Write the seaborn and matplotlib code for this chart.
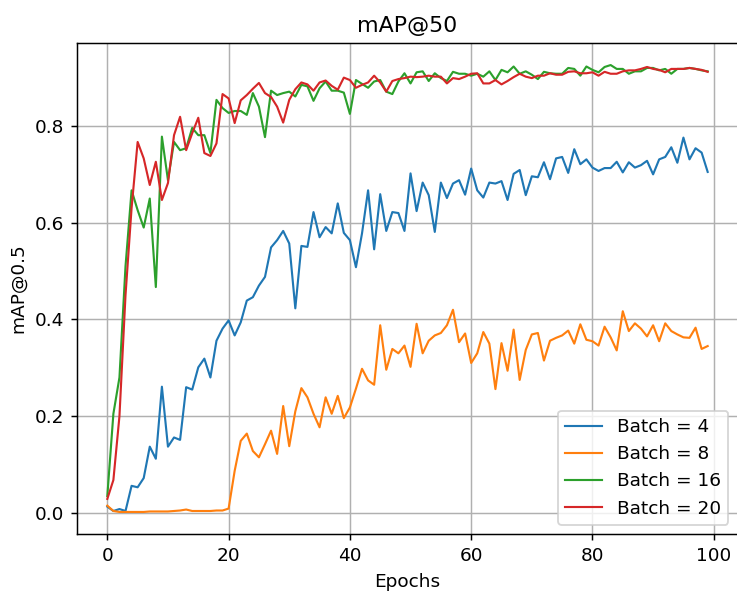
import numpy as np
import pandas as pd
import seaborn as sns
import matplotlib
matplotlib.use('Agg')
import matplotlib.pyplot as plt

epochs = list(range(100))

batch4 = [0.013, 0.004, 0.008, 0.004, 0.056, 0.053, 0.072, 0.137, 0.112, 0.261,
          0.137, 0.156, 0.151, 0.26, 0.255, 0.301, 0.319, 0.28, 0.356, 0.381,
          0.398, 0.367, 0.394, 0.439, 0.446, 0.47, 0.488, 0.549, 0.564, 0.583,
          0.557, 0.423, 0.552, 0.55, 0.622, 0.57, 0.591, 0.578, 0.64, 0.579,
          0.564, 0.508, 0.578, 0.667, 0.545, 0.659, 0.583, 0.622, 0.62, 0.583,
          0.702, 0.624, 0.683, 0.657, 0.581, 0.683, 0.651, 0.681, 0.688, 0.658,
          0.712, 0.667, 0.652, 0.683, 0.681, 0.686, 0.647, 0.701, 0.709, 0.657,
          0.696, 0.694, 0.725, 0.69, 0.733, 0.736, 0.703, 0.752, 0.721, 0.731,
          0.714, 0.707, 0.713, 0.713, 0.726, 0.704, 0.725, 0.714, 0.719, 0.728,
          0.70, 0.731, 0.736, 0.756, 0.724, 0.776, 0.731, 0.754, 0.745, 0.705]

batch8 = [0.015, 0.004, 0.002, 0.002, 0.002, 0.002, 0.002, 0.003, 0.003, 0.003,
          0.003, 0.004, 0.005, 0.007, 0.004, 0.004, 0.004, 0.004, 0.005, 0.005,
          0.009, 0.087, 0.149, 0.164, 0.128, 0.115, 0.142, 0.17, 0.122, 0.221,
          0.138, 0.21, 0.258, 0.239, 0.205, 0.177, 0.239, 0.205, 0.242, 0.196,
          0.218, 0.257, 0.298, 0.274, 0.265, 0.388, 0.296, 0.339, 0.33, 0.346,
          0.302, 0.391, 0.33, 0.356, 0.367, 0.372, 0.388, 0.42, 0.353, 0.371,
          0.31, 0.33, 0.374, 0.35, 0.256, 0.351, 0.294, 0.379, 0.275, 0.337,
          0.369, 0.372, 0.315, 0.356, 0.362, 0.367, 0.377, 0.35, 0.39, 0.358,
          0.355, 0.346, 0.385, 0.363, 0.336, 0.417, 0.376, 0.392, 0.381, 0.365,
          0.388, 0.355, 0.392, 0.376, 0.369, 0.363, 0.362, 0.383, 0.339, 0.345]

batch16 = [0.035, 0.205, 0.28, 0.51, 0.667, 0.626, 0.59, 0.65, 0.467, 0.778,
           0.688, 0.767, 0.75, 0.754, 0.796, 0.781, 0.781, 0.744, 0.854, 0.837,
           0.827, 0.831, 0.831, 0.823, 0.868, 0.84, 0.777, 0.873, 0.864, 0.868,
           0.871, 0.861, 0.885, 0.882, 0.852, 0.878, 0.892, 0.873, 0.873, 0.869,
           0.825, 0.895, 0.887, 0.879, 0.892, 0.895, 0.871, 0.866, 0.892, 0.909,
           0.888, 0.911, 0.913, 0.893, 0.909, 0.899, 0.893, 0.912, 0.908, 0.908,
           0.904, 0.908, 0.902, 0.913, 0.895, 0.916, 0.911, 0.923, 0.908, 0.913,
           0.906, 0.897, 0.912, 0.909, 0.908, 0.908, 0.92, 0.918, 0.904, 0.923,
           0.916, 0.911, 0.922, 0.926, 0.918, 0.918, 0.908, 0.913, 0.913, 0.92,
           0.92, 0.915, 0.918, 0.908, 0.918, 0.918, 0.92, 0.918, 0.915, 0.913]

batch20 = [0.029, 0.068, 0.2, 0.45, 0.63, 0.767, 0.733, 0.678, 0.726, 0.647,
           0.682, 0.781, 0.819, 0.75, 0.785, 0.817, 0.744, 0.738, 0.764, 0.866,
           0.857, 0.806, 0.853, 0.864, 0.877, 0.889, 0.868, 0.86, 0.84, 0.807,
           0.854, 0.876, 0.89, 0.886, 0.873, 0.89, 0.894, 0.883, 0.875, 0.90,
           0.895, 0.879, 0.885, 0.89, 0.904, 0.89, 0.871, 0.893, 0.897, 0.899,
           0.902, 0.901, 0.902, 0.904, 0.902, 0.902, 0.888, 0.899, 0.897, 0.902,
           0.908, 0.909, 0.888, 0.888, 0.895, 0.886, 0.893, 0.901, 0.908, 0.902,
           0.899, 0.904, 0.904, 0.909, 0.906, 0.906, 0.912, 0.913, 0.909, 0.909,
           0.911, 0.904, 0.912, 0.908, 0.908, 0.913, 0.915, 0.915, 0.918, 0.922,
           0.918, 0.916, 0.911, 0.918, 0.918, 0.918, 0.92, 0.918, 0.916, 0.912]

labels = ['Batch = 4', 'Batch = 8', 'Batch = 16', 'Batch = 20']

df = pd.concat([
    pd.DataFrame({'epoch': epochs, 'map50': vals, 'batch': lab})
    for vals, lab in zip([batch4, batch8, batch16, batch20], labels)
])

dpi = 133
fig = plt.figure(figsize=(737 / dpi, 592 / dpi), dpi=dpi)
ax = fig.add_axes([77.3 / 737, 57.7 / 592, 660.4 / 737, 491.6 / 592])

sns.lineplot(data=df, x='epoch', y='map50', hue='batch', hue_order=labels,
             palette=['#1f77b4', '#ff7f0e', '#2ca02c', '#d62728'],
             linewidth=1.15, ax=ax)

ax.grid(True)
ax.set_title('mAP@50')
ax.set_xlabel('Epochs')
ax.set_ylabel('mAP@0.5')
sns.move_legend(ax, 'lower right', title=None)

fig.savefig('out.png', dpi=dpi)
